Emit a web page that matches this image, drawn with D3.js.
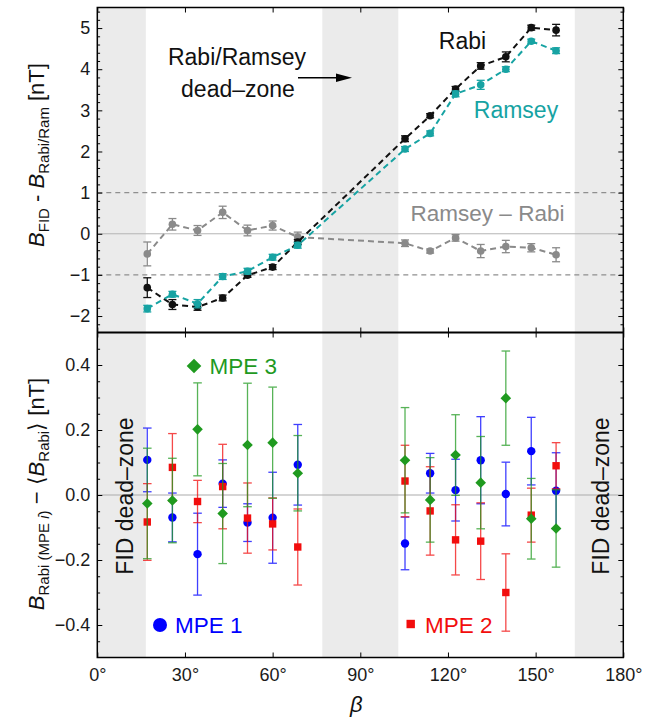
<!DOCTYPE html>
<html>
<head>
<meta charset="utf-8">
<script src="https://cdn.jsdelivr.net/npm/d3@7"></script>
<style>
body { margin:0; background:#fff; }
svg text { font-family:"Liberation Sans", Arial, sans-serif; }
</style>
</head>
<body>
<div id="chart"></div>
<script>
// ---- data (beta in degrees, fields in nT)
var beta = [17.1, 25.7, 34.3, 42.9, 51.4, 60.0, 68.6, 105.3, 113.9, 122.6, 131.2, 139.8, 148.5, 157.0];

var rabi      = [-1.31,-1.72,-1.78,-1.56,-1.01,-0.81,-0.20, 2.31, 2.87, 3.52, 4.08, 4.30, 5.01, 4.95];
var rabiErr   = [ 0.24, 0.12, 0.08, 0.07, 0.05, 0.06, 0.06, 0.07, 0.05, 0.06, 0.08, 0.12, 0.06, 0.14];
var ramsey    = [-1.82,-1.47,-1.70,-1.04,-0.91,-0.57,-0.28, 2.06, 2.44, 3.40, 3.62, 4.00, 4.68, 4.45];
var ramseyErr = [ 0.08, 0.07, 0.10, 0.07, 0.07, 0.07, 0.07, 0.06, 0.06, 0.07, 0.11, 0.06, 0.05, 0.07];
var diff      = [-0.49, 0.23, 0.08, 0.52, 0.08, 0.20,-0.08,-0.23,-0.42,-0.10,-0.42,-0.31,-0.34,-0.51];
var diffErr   = [ 0.29, 0.14, 0.12, 0.15, 0.13, 0.11, 0.12, 0.08, 0.05, 0.08, 0.16, 0.15, 0.10, 0.17];

var mpe1    = [ 0.108,-0.069,-0.182, 0.035,-0.085,-0.070, 0.093,-0.149, 0.067, 0.015, 0.107, 0.003, 0.135, 0.013];
var mpe1Err = [ 0.098, 0.075, 0.126, 0.073, 0.058, 0.140, 0.124, 0.081, 0.061, 0.095, 0.134, 0.098, 0.104, 0.117];
var mpe2    = [-0.083, 0.085,-0.020, 0.026,-0.071,-0.089,-0.160, 0.043,-0.049,-0.138,-0.142,-0.300,-0.062, 0.090];
var mpe2Err = [ 0.118, 0.104, 0.065, 0.130, 0.108, 0.080, 0.117, 0.110, 0.136, 0.108, 0.118, 0.119, 0.083, 0.071];
var mpe3    = [-0.026,-0.017, 0.202,-0.057, 0.154, 0.161, 0.067, 0.107,-0.015, 0.123, 0.038, 0.298,-0.073,-0.103];
var mpe3Err = [ 0.170, 0.130, 0.143, 0.154, 0.190, 0.171, 0.116, 0.162, 0.130, 0.124, 0.142, 0.145, 0.124, 0.119];

var deadZones = [[0, 16.6], [77, 103], [163.4, 180]];
var xTicks = [0, 30, 60, 90, 120, 150, 180];
var yTopTicks = [-2, -1, 0, 1, 2, 3, 4, 5];
var yBotTicks = [-0.4, -0.2, 0, 0.2, 0.4];

var teal = "#17a3a3", grey = "#8a8a8a";
var blue = "#0000ff", red = "#f20d0d", green = "#1f9a1f";

// ---- layout
var W = 659, H = 719;
var left = 97.3, right = 623.3, top1 = 7.5, mid = 332.5, bot = 657.5;

var svg = d3.select("#chart").append("svg")
    .attr("width", W).attr("height", H);

var x = d3.scaleLinear().domain([0, 180]).range([left, right]);
var yTop = d3.scaleLinear().domain([-2.4, 5.5]).range([mid, top1]);
var yBot = d3.scaleLinear().domain([-0.5, 0.5]).range([bot, mid]);

// dead-zone bands
svg.selectAll("rect.band")
    .data(deadZones)
    .enter().append("rect")
    .attr("class", "band")
    .attr("x", function(d) { return x(d[0]); })
    .attr("width", function(d) { return x(d[1]) - x(d[0]); })
    .attr("y", top1).attr("height", bot - top1)
    .attr("fill", "#ebebeb");

// reference lines
svg.append("line").attr("x1", left).attr("x2", right)
    .attr("y1", yTop(0)).attr("y2", yTop(0))
    .attr("stroke", "#b5b5b5").attr("stroke-width", 1);
[-1, 1].forEach(function(v) {
    svg.append("line").attr("x1", left).attr("x2", right)
        .attr("y1", yTop(v)).attr("y2", yTop(v))
        .attr("stroke", "#8f8f8f").attr("stroke-width", 1.2)
        .attr("stroke-dasharray", "5,4");
});
svg.append("line").attr("x1", left).attr("x2", right)
    .attr("y1", yBot(0)).attr("y2", yBot(0))
    .attr("stroke", "#ababab").attr("stroke-width", 1);

// ---- error bars, shared by both panels
function errBars(g, ys, es, yScale, color, cap, op) {
    var rows = beta.map(function(b, i) { return { b: b, v: ys[i], e: es[i] }; });
    var eg = g.append("g").attr("stroke", color).attr("stroke-width", 1.3).attr("opacity", op);
    rows.forEach(function(d) {
        var cx = x(d.b), y0 = yScale(d.v - d.e), y1 = yScale(d.v + d.e);
        eg.append("line").attr("x1", cx).attr("x2", cx).attr("y1", y0).attr("y2", y1);
        eg.append("line").attr("x1", cx - cap).attr("x2", cx + cap).attr("y1", y0).attr("y2", y0);
        eg.append("line").attr("x1", cx - cap).attr("x2", cx + cap).attr("y1", y1).attr("y2", y1);
    });
    return rows;
}

// ---- top panel series
function topSeries(ys, es, color) {
    var g = svg.append("g");
    var rows = errBars(g, ys, es, yTop, color, 4, 1);
    var line = d3.line().x(function(d) { return x(d.b); }).y(function(d) { return yTop(d.v); });
    g.append("path").datum(rows)
        .attr("d", line)
        .attr("fill", "none").attr("stroke", color)
        .attr("stroke-width", 2).attr("stroke-dasharray", "6,4");
    g.selectAll("circle").data(rows).enter().append("circle")
        .attr("cx", function(d) { return x(d.b); })
        .attr("cy", function(d) { return yTop(d.v); })
        .attr("r", 3.8).attr("fill", color);
}
topSeries(diff, diffErr, grey);
topSeries(rabi, rabiErr, "#111");
topSeries(ramsey, ramseyErr, teal);

// ---- bottom panel series
function diamond(s) { return "M0," + (-s) + "L" + s + ",0L0," + s + "L" + (-s) + ",0Z"; }

function botSeries(ys, es, color, shape) {
    var g = svg.append("g");
    var rows = errBars(g, ys, es, yBot, color, 4.3, 0.75);
    var m = g.selectAll(".m").data(rows).enter();
    if (shape === "circle") {
        m.append("circle")
            .attr("cx", function(d) { return x(d.b); })
            .attr("cy", function(d) { return yBot(d.v); })
            .attr("r", 4.2).attr("fill", color);
    } else if (shape === "square") {
        m.append("rect")
            .attr("x", function(d) { return x(d.b) - 3.7; })
            .attr("y", function(d) { return yBot(d.v) - 3.7; })
            .attr("width", 7.4).attr("height", 7.4).attr("fill", color);
    } else {
        m.append("path")
            .attr("transform", function(d) { return "translate(" + x(d.b) + "," + yBot(d.v) + ")"; })
            .attr("d", diamond(5.3)).attr("fill", color);
    }
}
botSeries(mpe1, mpe1Err, blue, "circle");
botSeries(mpe2, mpe2Err, red, "square");
botSeries(mpe3, mpe3Err, green, "diamond");

// ---- axes
function clean(g) { g.select(".domain").remove(); g.selectAll("line").attr("stroke", "#000"); }
function minorVals(lo, hi, step, majors) {
    return d3.range(Math.round(lo / step), Math.round(hi / step) + 1)
        .map(function(k) { return +(k * step).toFixed(3); })
        .filter(function(v) { return majors.every(function(m) { return Math.abs(m - v) > 1e-6; }); });
}
var tickFont = function(g) {
    g.selectAll("text").attr("font-size", 18).attr("fill", "#1a1a1a")
        .style("font-family", "'Liberation Sans', Arial, sans-serif");
};

var topMinor = minorVals(-2.2, 5.4, 0.2, yTopTicks);
var botMinor = minorVals(-0.45, 0.45, 0.05, yBotTicks);

svg.append("g").attr("transform", "translate(" + left + ",0)")
    .call(d3.axisLeft(yTop).tickValues(yTopTicks).tickSize(-5).tickPadding(7).tickFormat(d3.format("d")))
    .call(clean).call(tickFont);
svg.append("g").attr("transform", "translate(" + left + ",0)")
    .call(d3.axisLeft(yTop).tickValues(topMinor).tickSize(-2.8).tickFormat(""))
    .call(clean);
svg.append("g").attr("transform", "translate(" + right + ",0)")
    .call(d3.axisRight(yTop).tickValues(yTopTicks).tickSize(-5).tickFormat(""))
    .call(clean);
svg.append("g").attr("transform", "translate(" + right + ",0)")
    .call(d3.axisRight(yTop).tickValues(topMinor).tickSize(-2.8).tickFormat(""))
    .call(clean);

svg.append("g").attr("transform", "translate(" + left + ",0)")
    .call(d3.axisLeft(yBot).tickValues(yBotTicks).tickSize(-5).tickPadding(7).tickFormat(d3.format(".1f")))
    .call(clean).call(tickFont);
svg.append("g").attr("transform", "translate(" + left + ",0)")
    .call(d3.axisLeft(yBot).tickValues(botMinor).tickSize(-2.8).tickFormat(""))
    .call(clean);
svg.append("g").attr("transform", "translate(" + right + ",0)")
    .call(d3.axisRight(yBot).tickValues(yBotTicks).tickSize(-5).tickFormat(""))
    .call(clean);
svg.append("g").attr("transform", "translate(" + right + ",0)")
    .call(d3.axisRight(yBot).tickValues(botMinor).tickSize(-2.8).tickFormat(""))
    .call(clean);

svg.append("g").attr("transform", "translate(0," + bot + ")")
    .call(d3.axisBottom(x).tickValues(xTicks).tickSize(-5).tickPadding(11)
        .tickFormat(function(d) { return d + "°"; }))
    .call(clean).call(tickFont);
svg.append("g").attr("transform", "translate(0," + top1 + ")")
    .call(d3.axisTop(x).tickValues(xTicks).tickSize(-5).tickFormat(""))
    .call(clean);
svg.append("g").attr("transform", "translate(0," + mid + ")")
    .call(d3.axisBottom(x).tickValues(xTicks).tickSize(-5).tickFormat(""))
    .call(clean);
svg.append("g").attr("transform", "translate(0," + mid + ")")
    .call(d3.axisTop(x).tickValues(xTicks).tickSize(-5).tickFormat(""))
    .call(clean);

// frames
svg.append("rect").attr("x", left).attr("y", top1)
    .attr("width", right - left).attr("height", bot - top1)
    .attr("fill", "none").attr("stroke", "#000").attr("stroke-width", 1.5);
svg.append("line").attr("x1", left).attr("x2", right)
    .attr("y1", mid).attr("y2", mid)
    .attr("stroke", "#000").attr("stroke-width", 2.2);

// ---- annotations
function label(txt, px, py, size, color, anchor) {
    return svg.append("text").attr("x", px).attr("y", py)
        .attr("font-size", size).attr("fill", color)
        .attr("text-anchor", anchor || "middle").text(txt);
}
label("Rabi/Ramsey", 237, 65, 23, "#111");
label("dead–zone", 238, 97, 23, "#111");
svg.append("line").attr("x1", 298).attr("x2", 340).attr("y1", 77.7).attr("y2", 77.7)
    .attr("stroke", "#000").attr("stroke-width", 1.5);
svg.append("path").attr("d", "M336,73.4L352,77.7L336,82Z").attr("fill", "#000");

label("Rabi", 462.5, 48.5, 23, "#111");
label("Ramsey", 516, 118, 23, teal);
label("Ramsey – Rabi", 487.5, 220.5, 22.5, grey);

label("MPE 3", 209.5, 373.5, 22.5, green, "start");
svg.append("path").attr("transform", "translate(194,366)").attr("d", diamond(7.3)).attr("fill", green);
label("MPE 1", 175, 633, 22.5, blue, "start");
svg.append("circle").attr("cx", 160).attr("cy", 625).attr("r", 7).attr("fill", blue);
label("MPE 2", 425, 633, 22.5, red, "start");
svg.append("rect").attr("x", 406.5).attr("y", 619.8).attr("width", 8.4).attr("height", 8.4).attr("fill", red);

svg.append("text").attr("transform", "translate(133,496) rotate(-90)")
    .attr("text-anchor", "middle").attr("font-size", 23).attr("fill", "#111")
    .text("FID dead–zone");
svg.append("text").attr("transform", "translate(608.5,496) rotate(-90)")
    .attr("text-anchor", "middle").attr("font-size", 23).attr("fill", "#111")
    .text("FID dead–zone");

// axis titles
var yt1 = svg.append("text").attr("transform", "translate(44,155) rotate(-90)")
    .attr("text-anchor", "middle").attr("font-size", 22).attr("fill", "#111");
yt1.append("tspan").attr("font-style", "italic").text("B");
yt1.append("tspan").attr("font-size", 15).attr("dy", 4.5).text("FID");
yt1.append("tspan").attr("dy", -4.5).text(" - ");
yt1.append("tspan").attr("font-style", "italic").text("B");
yt1.append("tspan").attr("font-size", 15).attr("dy", 4.5).text("Rabi/Ram");
yt1.append("tspan").attr("dy", -4.5).text(" [nT]");

var yt2 = svg.append("text").attr("transform", "translate(44,494) rotate(-90)")
    .attr("text-anchor", "middle").attr("font-size", 22).attr("fill", "#111");
yt2.append("tspan").attr("font-style", "italic").text("B");
yt2.append("tspan").attr("font-size", 15).attr("dy", 4.5).text("Rabi (MPE ");
yt2.append("tspan").attr("font-size", 15).attr("font-style", "italic").text("i");
yt2.append("tspan").attr("font-size", 15).text(")");
yt2.append("tspan").attr("dy", -4.5).text(" − ⟨");
yt2.append("tspan").attr("font-style", "italic").text("B");
yt2.append("tspan").attr("font-size", 15).attr("dy", 4.5).text("Rabi");
yt2.append("tspan").attr("dy", -4.5).text("⟩ [nT]");

svg.append("text").attr("x", (left + right) / 2 - 4).attr("y", 712)
    .attr("text-anchor", "middle").attr("font-size", 22).attr("font-style", "italic")
    .attr("fill", "#111").text("β");
</script>
</body>
</html>
